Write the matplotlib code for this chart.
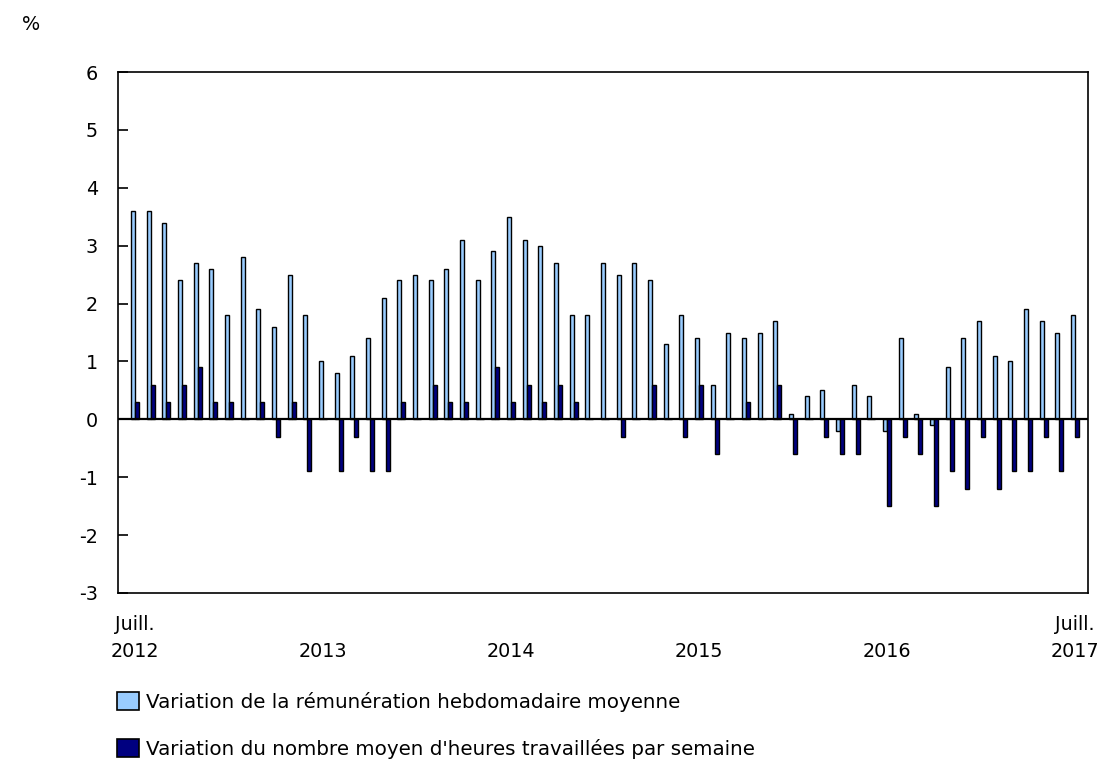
import matplotlib
matplotlib.use("Agg")
import matplotlib.pyplot as plt
import numpy as np
from matplotlib.patches import Patch

plt.rcParams['font.family'] = ['DejaVu Sans']

# Months July 2012 .. July 2017 (61 months)
earnings = [3.6, 3.6, 3.4, 2.4, 2.7, 2.6, 1.8, 2.8, 1.9, 1.6, 2.5, 1.8,
            1.0, 0.8, 1.1, 1.4, 2.1, 2.4, 2.5, 2.4, 2.6, 3.1, 2.4, 2.9,
            3.5, 3.1, 3.0, 2.7, 1.8, 1.8, 2.7, 2.5, 2.7, 2.4, 1.3, 1.8,
            1.4, 0.6, 1.5, 1.4, 1.5, 1.7, 0.1, 0.4, 0.5, -0.2, 0.6, 0.4,
            -0.2, 1.4, 0.1, -0.1, 0.9, 1.4, 1.7, 1.1, 1.0, 1.9, 1.7, 1.5,
            1.8]
hours = [0.3, 0.6, 0.3, 0.6, 0.9, 0.3, 0.3, 0.0, 0.3, -0.3, 0.3, -0.9,
         0.0, -0.9, -0.3, -0.9, -0.9, 0.3, 0.0, 0.6, 0.3, 0.3, 0.0, 0.9,
         0.3, 0.6, 0.3, 0.6, 0.3, 0.0, 0.0, -0.3, 0.0, 0.6, 0.0, -0.3,
         0.6, -0.6, 0.0, 0.3, 0.0, 0.6, -0.6, 0.0, -0.3, -0.6, -0.6, 0.0,
         -1.5, -0.3, -0.6, -1.5, -0.9, -1.2, -0.3, -1.2, -0.9, -0.9, -0.3, -0.9,
         -0.3]
tick_positions = [0, 12, 24, 36, 48, 60]
tick_labels = ["Juill.\n2012", "\n2013", "\n2014", "\n2015", "\n2016", "Juill.\n2017"]
series_names = ["Variation de la rémunération hebdomadaire moyenne",
                "Variation du nombre moyen d'heures travaillées par semaine"]
yticks = [-3, -2, -1, 0, 1, 2, 3, 4, 5, 6]

light = "#99ccff"
dark = "#000080"
fs = 13.8
fs_leg = 14.3

fig = plt.figure(figsize=(11, 7.61), dpi=100)
ax = fig.add_axes([118/1100, 1 - 593/761, (1088-118)/1100, (593-72)/761])

x = np.arange(len(earnings))
w = 0.26
ax.bar(x - w/2, earnings, width=w, color=light, edgecolor="black", linewidth=1.0, zorder=2)
ax.bar(x + w/2, hours, width=w, color=dark, edgecolor="black", linewidth=1.0, zorder=2)

ax.axhline(0, color="black", linewidth=1.6, zorder=3)
ax.set_ylim(-3, 6)
ax.set_xlim(-1.08, 60.83)
ax.set_yticks(yticks)
ax.set_yticklabels([str(v) for v in yticks], fontsize=fs)
ax.tick_params(axis='y', direction='in', length=7, width=1.2, pad=14.5)
ax.set_xticks(tick_positions)
ax.set_xticklabels(tick_labels, fontsize=fs, linespacing=1.55)
ax.tick_params(axis='x', length=0, pad=16)
for s in ax.spines.values():
    s.set_linewidth(1.2)

fig.text(22/1100, 1 - 24/761, "%", fontsize=fs, va="center", ha="left")

handles = [Patch(facecolor=light, edgecolor="black", linewidth=1.2),
           Patch(facecolor=dark, edgecolor="black", linewidth=1.2)]
fig.legend(handles, series_names, loc="upper left",
           bbox_to_anchor=(117/1100, 1 - 692/761), frameon=False,
           fontsize=fs_leg, handlelength=1.1, handleheight=1.0,
           handletextpad=0.38, labelspacing=1.35, borderpad=0, borderaxespad=0)

fig.savefig("out.png", dpi=100)
